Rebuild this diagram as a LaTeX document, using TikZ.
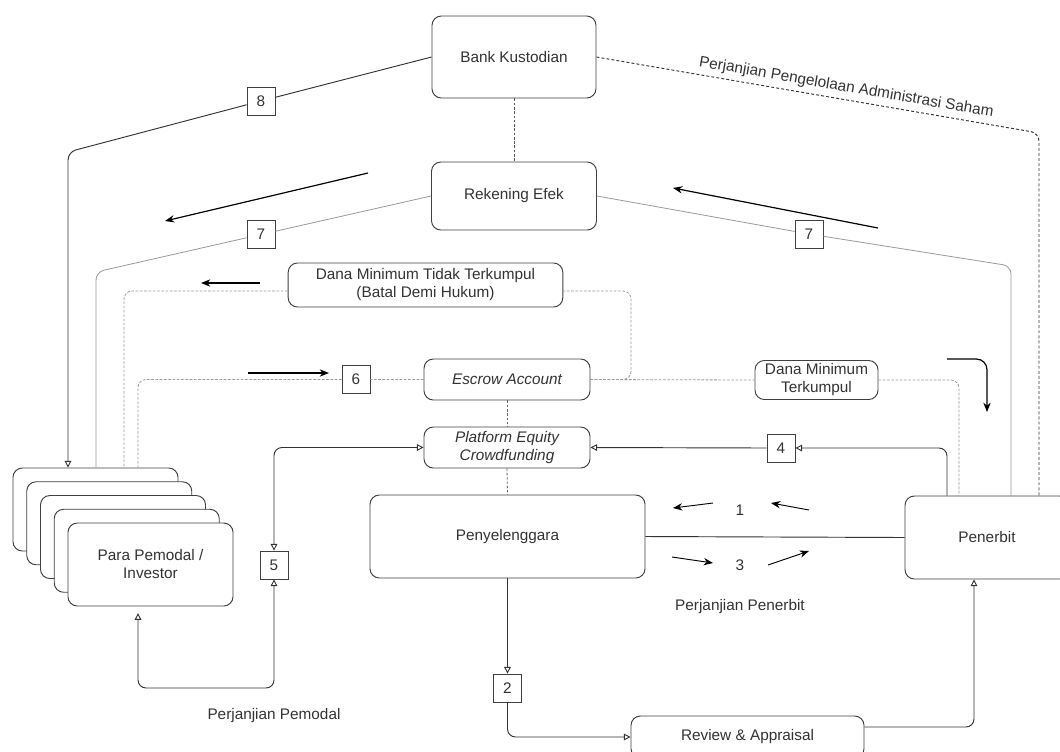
\documentclass[tikz,border=0pt]{standalone}
\usepackage{fontspec}
\setmainfont{Liberation Sans}
\usetikzlibrary{arrows.meta}

\begin{document}
\begin{tikzpicture}[x=0.75pt,y=-0.75pt,
  every node/.style={font=\fontsize{11.5}{13.5}\selectfont,text=black!80},
  box/.style={draw=black!75,fill=white,rounded corners=7pt,align=center,inner sep=0pt,line width=0.7pt},
  numbox/.style={draw=black!75,fill=white,minimum width=21pt,minimum height=21pt,inner sep=0pt,line width=0.6pt},
  link/.style={draw=black!80,line width=0.7pt,rounded corners=6pt},
  greylink/.style={draw=black!40,line width=0.6pt,rounded corners=6pt},
  dashlink/.style={draw=black!40,line width=0.6pt,dash pattern=on 2pt off 1.2pt,rounded corners=6pt},
  dotlink/.style={draw=black!80,line width=0.7pt,dash pattern=on 2.2pt off 1.6pt,rounded corners=6pt},
  oarr/.style={-{Triangle[open,length=5pt,width=5pt]}},
  twoway/.style={{Triangle[open,length=5pt,width=5pt]}-{Triangle[open,length=5pt,width=5pt]}},
  flow/.style={-{Stealth[length=7pt,width=5.5pt]},draw=black,line width=0.9pt}]

  \useasboundingbox (0,0) rectangle (1060,751);
  \clip (0,0) rectangle (1060,751);

  \node[box,minimum width=123pt,minimum height=61.5pt] (bank) at (514,57) {Bank Kustodian};
  \node[box,minimum width=123.75pt,minimum height=51pt] (rek) at (514,196) {Rekening Efek};
  \node[box,minimum width=206pt,minimum height=33pt] (tidak) at (425.5,285) {Dana Minimum Tidak Terkumpul\\(Batal Demi Hukum)};
  \node[box,minimum width=124.5pt,minimum height=30.75pt,font=\fontsize{11.5}{13.5}\selectfont\itshape] (escrow) at (507,379.5) {Escrow Account};
  \node[box,minimum width=124.5pt,minimum height=30.75pt,font=\fontsize{11.5}{13.5}\selectfont\itshape] (platform) at (507,447.5) {Platform Equity\\Crowdfunding};
  \node[box,minimum width=206.25pt,minimum height=62.25pt] (pen) at (507.5,536.5) {Penyelenggara};
  \node[box,minimum width=123pt,minimum height=62.25pt] (penerbit) at (987,537.5) {Penerbit};
  \node[box,minimum width=92.25pt,minimum height=29.25pt] (terkumpul) at (816.5,380) {Dana Minimum\\Terkumpul};
  \node[box,minimum width=174.75pt,minimum height=31.5pt] (review) at (747.5,737) {Review \& Appraisal};

  % stack of investors, back to front
  \node[box,minimum width=123.75pt,minimum height=62.25pt] (inv4) at (95.5,509.5) {};
  \node[box,minimum width=123.75pt,minimum height=62.25pt] (inv3) at (109.25,523.25) {};
  \node[box,minimum width=123.75pt,minimum height=62.25pt] (inv2) at (123,537) {};
  \node[box,minimum width=123.75pt,minimum height=62.25pt] (inv1) at (136.75,550.75) {};
  \node[box,minimum width=123.75pt,minimum height=62.25pt] (inv) at (150.5,564.5) {Para Pemodal /\\Investor};

  \node[numbox] (n8) at (261,101) {8};
  \node[numbox] (n7a) at (261,234.5) {7};
  \node[numbox] (n7b) at (809,234) {7};
  \node[numbox] (n6) at (356,379.5) {6};
  \node[numbox] (n4) at (781,448) {4};
  \node[numbox] (n5) at (274,565) {5};
  \node[numbox] (n2) at (507.5,688) {2};

  \coordinate (c8) at (68,152);
  \coordinate (c7a) at (96,272);
  \coordinate (ct) at (124,291);
  \coordinate (c6) at (138,379.5);
  \coordinate (ce) at (631,291);
  \coordinate (cd) at (959,380);
  \coordinate (c7b) at (1011,266);
  \coordinate (cb) at (1039,133);
  \coordinate (c4) at (947,448);
  \coordinate (cq) at (138,688);
  \coordinate (cr) at (974,727);

  \draw[link,oarr] (bank.west) -- (n8) -- (c8) -- (c8 |- inv4.north);
  \draw[greylink] (rek.west) -- (n7a) -- (c7a) -- (c7a |- inv4.north);
  \draw[greylink] (rek.east) -- (n7b) -- (c7b) -- (c7b |- penerbit.north);
  \draw[dotlink] (bank.east) -- node[sloped,above,pos=0.56] {Perjanjian Pengelolaan Administrasi Saham} (cb) -- (cb |- penerbit.north);
  \draw[dashlink,draw=black!65] (bank.south) -- (rek.north);

  \draw[dashlink] (tidak.west |- ct) -- (ct) -- (ct |- inv4.north);
  \draw[dashlink] (escrow.west) -- (n6) -- (c6) -- (c6 |- inv4.north);
  \draw[dashlink] (escrow.east) -- (escrow.east -| ce) -- (ce) -- (tidak.east |- ce);
  \draw[dashlink] (escrow.east) -- (terkumpul.west);
  \draw[dashlink] (terkumpul.east) -- (cd) -- (cd |- penerbit.north);
  \draw[dashlink,draw=black!60] (escrow.south) -- (platform.north);
  \draw[dashlink,draw=black!60] (platform.south) -- (pen.north);

  \draw[link,oarr] (c4 |- penerbit.north) -- (c4) -- (n4.east);
  \draw[link,oarr] (n4.west) -- (platform.east);
  \draw[link,twoway] (n5.north) -- (n5 |- platform.west) -- (platform.west);
  \draw[link,twoway,shorten >=5pt] (n5.south) -- (n5 |- cq) -- (cq) -- (cq |- inv.south);
  \draw[link] (pen.east) -- (penerbit.west);
  \draw[link,oarr] (pen.south) -- (n2.north);
  \draw[link,oarr] (n2.south) -- (n2 |- review.west) -- (review.west);
  \draw[link,oarr] (review.east |- cr) -- (cr) -- (cr |- penerbit.south);

  % direction arrows
  \draw[flow] (368,173) -- (165,221);
  \draw[flow] (878,228) -- (673,188);
  \draw[flow] (260,283) -- (201,283);
  \draw[flow] (248,373) -- (329,373);
  \draw[flow,rounded corners=8pt] (947,359) -- (987,359) -- (987,412);
  \draw[flow,line width=0.7pt] (713,503) -- (673,508);
  \draw[flow,line width=0.7pt] (809,510) -- (771,503);
  \draw[flow,line width=0.7pt] (672,557) -- (713,563);
  \draw[flow,line width=0.7pt] (768,565) -- (809,551);

  \node (lbl1) at (740,510) {1};
  \node (lbl3) at (740,565) {3};
  \node (penerbitdeal) at (740,607) {Perjanjian Penerbit};
  \node (pemodaldeal) at (274,716) {Perjanjian Pemodal};
\end{tikzpicture}
\end{document}
